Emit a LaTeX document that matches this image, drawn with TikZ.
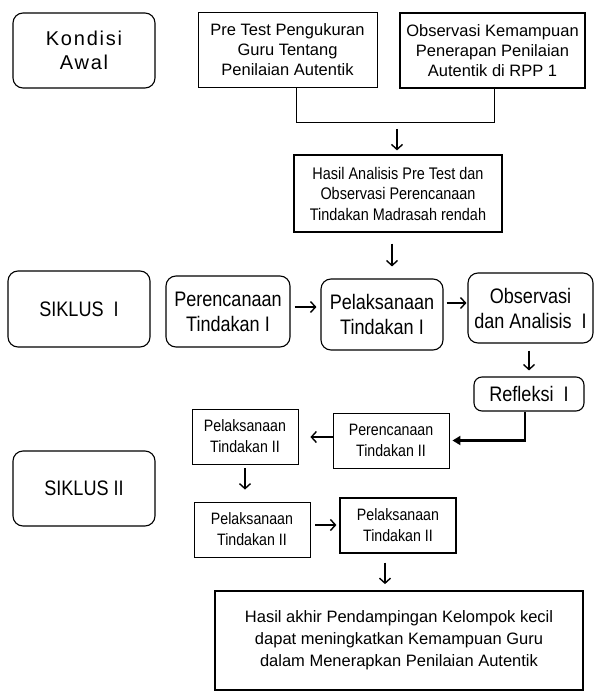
\documentclass[tikz,border=0pt]{standalone}
\usepackage{fontspec}
\setmainfont{Liberation Sans}
\newfontfamily\nar[FakeStretch=0.86]{Liberation Sans}
\newfontfamily\spc[LetterSpace=9]{Liberation Sans}
\usetikzlibrary{arrows.meta}
\tikzset{
  sq/.style={draw, line width=0.9pt, align=center, inner sep=0pt},
  rnd/.style={draw, line width=1.1pt, rounded corners=10pt, align=center, inner sep=0pt},
  arr/.style={line width=1.4pt, -{Straight Barb[length=5pt,width=11pt,line width=1.4pt]}},
  bigarr/.style={line width=2.2pt, -{Triangle[length=8pt,width=9pt]}},
  conn/.style={line width=1pt},
}
\begin{document}
\begin{tikzpicture}[x=1pt,y=-1pt]
\useasboundingbox (0,0) rectangle (596,695);
% top row
\node[rnd, minimum width=142pt, minimum height=75pt,
  font=\spc\fontsize{20}{24}\selectfont] (kondisi) at (84,50.5) {Kondisi\\Awal};
\node[sq, minimum width=179pt, minimum height=75pt,
  font=\fontsize{16.5}{20}\selectfont] (pretest) at (287.5,49.5)
  {Pre Test Pengukuran\\Guru Tentang\\Penilaian Autentik};
\node[sq, line width=1.6pt, minimum width=185pt, minimum height=75pt,
  font=\fontsize{16.5}{20}\selectfont] (obsawal) at (492.5,50.5)
  {Observasi Kemampuan\\Penerapan Penilaian\\Autentik di RPP 1};
\coordinate (join) at (397,123);
\node[sq, line width=1.2pt, minimum width=208pt, minimum height=77pt,
  font=\nar\fontsize{16.8}{20.5}\selectfont] (hasil) at (398,193.5)
  {Hasil Analisis Pre Test dan\\Observasi Perencanaan\\Tindakan Madrasah rendah};
% siklus I
\node[rnd, minimum width=142pt, minimum height=76pt,
  font=\nar\fontsize{21}{25}\selectfont] (siklus1) at (79,309) {SIKLUS\ \ I};
\node[rnd, minimum width=124pt, minimum height=71pt,
  font=\nar\fontsize{21}{25}\selectfont] (ren1) at (228,311.5) {Perencanaan\\Tindakan I};
\node[rnd, minimum width=122pt, minimum height=71pt,
  font=\nar\fontsize{21}{25}\selectfont] (pel1) at (382,314.5) {Pelaksanaan\\Tindakan I};
\node[rnd, minimum width=125pt, minimum height=70pt,
  font=\nar\fontsize{21}{25}\selectfont] (obs1) at (530.5,308) {Observasi\\dan Analisis\ \ I};
\node[rnd, rounded corners=8pt, minimum width=110pt, minimum height=34pt,
  font=\nar\fontsize{21}{25}\selectfont] (refl) at (529,394) {Refleksi\ \ I};
% siklus II
\node[sq, minimum width=116pt, minimum height=55pt,
  font=\nar\fontsize{16.5}{21}\selectfont] (ren2) at (391,440.5) {Perencanaan\\Tindakan II};
\node[sq, minimum width=106pt, minimum height=55pt,
  font=\nar\fontsize{16.5}{21}\selectfont] (pel2a) at (245,436.5) {Pelaksanaan\\Tindakan II};
\node[rnd, minimum width=142pt, minimum height=75pt,
  font=\nar\fontsize{21}{25}\selectfont] (siklus2) at (84,488.5) {SIKLUS II};
\node[sq, minimum width=116pt, minimum height=55pt,
  font=\nar\fontsize{16.5}{21}\selectfont] (pel2b) at (252,529.5) {Pelaksanaan\\Tindakan II};
\node[sq, line width=1.2pt, minimum width=116pt, minimum height=55pt,
  font=\nar\fontsize{16.5}{21}\selectfont] (pel2c) at (398,525.5) {Pelaksanaan\\Tindakan II};
\node[sq, line width=1.8pt, minimum width=368pt, minimum height=99pt,
  font=\fontsize{16.5}{22}\selectfont] (final) at (399,640.5)
  {Hasil akhir Pendampingan Kelompok kecil\\dapat meningkatkan Kemampuan Guru\\dalam Menerapkan Penilaian Autentik};
% connectors
\draw[conn] ([xshift=8.5pt]pretest.south) -- ([xshift=8.5pt]pretest.south |- join)
  -- ([xshift=1.5pt]obsawal.south |- join) -- ([xshift=1.5pt]obsawal.south);
\draw[arr, shorten <=6pt, shorten >=4pt] (join) -- (join |- hasil.north);
\draw[arr, shorten <=11pt, shorten >=12pt] ([xshift=-6pt]hasil.south) -- ([xshift=-6pt]hasil.south |- pel1.north);
\draw[arr, shorten <=4pt, shorten >=4pt] ([yshift=4.5pt]ren1.east) -- ([yshift=4.5pt]ren1.east -| pel1.west);
\draw[arr, shorten <=3pt, shorten >=1pt] ([yshift=11.5pt]pel1.east) -- ([yshift=11.5pt]pel1.east -| obs1.west);
\draw[arr, shorten <=7pt, shorten >=6pt] ([xshift=-1.5pt]obs1.south) -- ([xshift=-1.5pt]obs1.south |- refl.north);
\draw[bigarr, shorten >=3pt] ([xshift=-4pt]refl.south) |- (ren2.east);
\draw[arr, shorten >=12pt] ([yshift=3.5pt]ren2.west) -- ([yshift=3.5pt]ren2.west -| pel2a.east);
\draw[arr, shorten <=4pt, shorten >=12pt] (pel2a.south) -- (pel2a.south |- pel2b.north);
\draw[arr, shorten <=5pt, shorten >=3pt] ([yshift=4.5pt]pel2b.east) -- ([yshift=4.5pt]pel2b.east -| pel2c.west);
\draw[arr, shorten <=9pt, shorten >=6pt] ([xshift=-13pt]pel2c.south) -- ([xshift=-13pt]pel2c.south |- final.north);
\end{tikzpicture}
\end{document}
